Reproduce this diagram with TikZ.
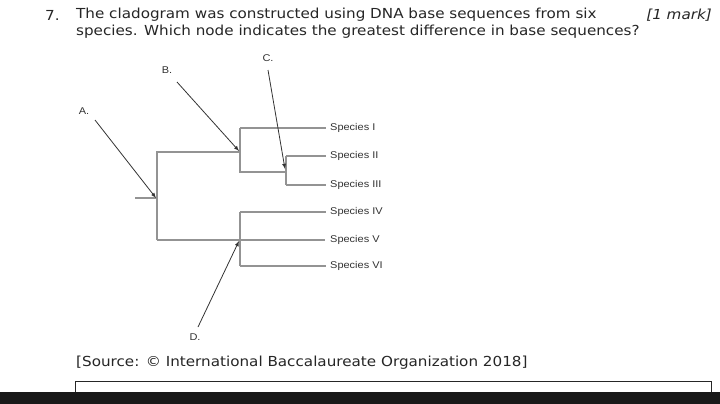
\documentclass[tikz,border=0pt]{standalone}
\usepackage{fontspec}
\setmainfont{DejaVu Sans}[FakeStretch=1.1]
\newfontfamily\lab{Liberation Sans}[FakeStretch=1.12]
\begin{document}
\begin{tikzpicture}[x=1pt,y=-1pt,
  br/.style={draw=gray!85,line width=1.6pt},
  arr/.style={draw=black!80,line width=0.8pt,-latex},
  sp/.style={font=\lab\fontsize{9.8}{11}\selectfont,anchor=west,inner sep=0pt,text=black!80},
  ql/.style={font=\fontsize{13.8}{16}\selectfont,anchor=west,inner sep=0pt,text=black!85}]
\useasboundingbox (0,0) rectangle (720,404);
\fill[white] (0,0) rectangle (720,404);
\node[ql] (q7) at (45,15) {7.};
\node[ql] (q1) at (76,15) {The cladogram was constructed using DNA base sequences from six};
\node[ql] (q2) at (76,32) {species. Which node indicates the greatest difference in base sequences?};
\node[ql,font=\itshape\fontsize{13.8}{16}\selectfont,anchor=east] (mk) at (712,15) {[1 mark]};
% tree
\coordinate (r0) at (135,198); \coordinate (r) at (157,198);
\coordinate (B) at (240,152); \coordinate (C) at (286,172); \coordinate (D) at (240,240);
\draw[br] (r0) -- (r);
\draw[br] (157,240) -- (157,152) -- (B);
\draw[br] (240,128) -- (240,172) -- (C);
\draw[br] (286,156) -- (286,185);
\draw[br] (157,240) -- (325,240);
\draw[br] (240,212) -- (240,266);
\node[sp] (s1) at (330,128) {Species I};
\node[sp] (s2) at (330,156) {Species II};
\node[sp] (s3) at (330,185) {Species III};
\node[sp] (s4) at (330,212) {Species IV};
\node[sp] (s5) at (330,240) {Species V};
\node[sp] (s6) at (330,266) {Species VI};
\draw[br] (240,128) -- ([xshift=-4pt]s1.west);
\draw[br] (286,156) -- ([xshift=-4pt]s2.west);
\draw[br] (286,185) -- ([xshift=-4pt]s3.west);
\draw[br] (240,212) -- ([xshift=-4pt]s4.west);
\draw[br] (240,266) -- ([xshift=-4pt]s6.west);
\node[sp,anchor=center] (A) at (84,111) {A.};
\node[sp,anchor=center] (Bl) at (167,70) {B.};
\node[sp,anchor=center] (Cl) at (268,58) {C.};
\node[sp,anchor=center] (Dl) at (195,337) {D.};
\coordinate (ae) at (156,198); \coordinate (be) at (239,151);
\coordinate (ce) at (285,169); \coordinate (de) at (239,241);
\draw[arr] (95,120) -- (ae);
\draw[arr] (177,82) -- (be);
\draw[arr] (268,70) -- (ce);
\draw[arr] (198,327) -- (de);
\node[ql] (src) at (76,363) {[Source: © International Baccalaureate Organization 2018]};
\draw[black!85,line width=0.8pt] (75,400) -- (75,381) -- (711,381) -- (711,400);
\fill[black!90] (0,392) rectangle (720,404);
\end{tikzpicture}
\end{document}
